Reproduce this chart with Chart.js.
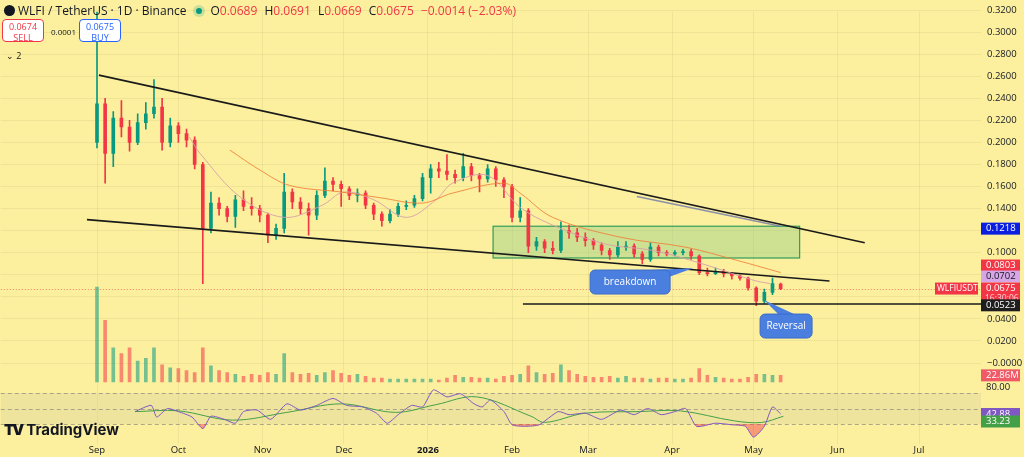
<!DOCTYPE html>
<html>
<head>
<meta charset="utf-8">
<script src="https://cdn.jsdelivr.net/npm/chart.js@4.4.1/dist/chart.umd.min.js"></script>
<style>
  html, body { margin: 0; padding: 0; background: #fcf09f; }
  #wrap { position: relative; width: 1024px; height: 457px; overflow: hidden; font-family: "Open Sans", Roboto, sans-serif; }
  #chart { position: absolute; left: 0; top: 0; }
  .hdr { position: absolute; left: 4px; top: 2px; font-size: 12px; color: #131722; white-space: nowrap; }
  .hdr .dot { display: inline-block; width: 11px; height: 11px; border-radius: 6px; background: #131722; vertical-align: -1px; margin-right: 3px; }
  .hdr .live { display: inline-block; width: 6px; height: 6px; border-radius: 3px; background: #089981; margin: 0 8px 1px 10px; box-shadow: 0 0 0 3px rgba(8,153,129,0.2); }
  .hdr .k { color: #131722; }
  .hdr .v { color: #f23645; margin-right: 4px; }
  .btn { position: absolute; top: 19px; width: 42px; height: 23px; border-radius: 4px; background: #fff; font-size: 9px; text-align: center; line-height: 11px; padding-top: 1px; box-sizing: border-box; }
  .sell { left: 2px; border: 1px solid #f23645; color: #f23645; }
  .buy { left: 79px; border: 1px solid #2962ff; color: #2962ff; }
  .spr { position: absolute; left: 51px; top: 26px; font-size: 8px; color: #131722; }
  .cnt { position: absolute; left: 6px; top: 49px; font-size: 9px; color: #131722; }
  .logo { position: absolute; left: 4px; top: 420px; font-size: 15px; font-weight: 700; color: #131722; font-family: Inter, "Open Sans", sans-serif; }
  .logo b { font-size: 15px; letter-spacing: -2px; margin-right: 4px; }
</style>
</head>
<body>
<div id="wrap">
  <canvas id="chart" width="1024" height="457"></canvas>
  <div class="hdr"><span class="dot"></span>WLFI / TetherUS · 1D · Binance<span class="live"></span><span class="k">O</span><span class="v">0.0689</span> <span class="k">H</span><span class="v">0.0691</span> <span class="k">L</span><span class="v">0.0669</span> <span class="k">C</span><span class="v">0.0675</span> <span class="v">−0.0014 (−2.03%)</span></div>
  <div class="btn sell">0.0674<br>SELL</div>
  <div class="spr">0.0001</div>
  <div class="btn buy">0.0675<br>BUY</div>
  <div class="cnt">⌄ 2</div>
  <div class="logo"><b>TV</b>TradingView</div>
</div>
<script>
// candles every 3 days, day 0 = 1 Sep 2025
const days = [0,3,6,9,12,15,18,21,24,27,30,33,36,39,42,45,48,51,54,57,60,63,66,69,72,75,78,81,84,87,90,93,96,99,102,105,108,111,114,117,120,123,126,129,132,135,138,141,144,147,150,153,156,159,162,165,168,171,174,177,180,183,186,189,192,195,198,201,204,207,210,213,216,219,222,225,228,231,234,237,240,243,246,249,252];
const opens = [0.200,0.235,0.190,0.222,0.214,0.200,0.218,0.226,0.232,0.200,0.215,0.208,0.202,0.180,0.122,0.145,0.140,0.133,0.148,0.142,0.140,0.134,0.116,0.122,0.155,0.146,0.140,0.134,0.152,0.165,0.162,0.158,0.152,0.154,0.143,0.135,0.129,0.135,0.142,0.143,0.149,0.168,0.176,0.174,0.171,0.168,0.178,0.170,0.167,0.176,0.166,0.160,0.132,0.138,0.106,0.110,0.104,0.102,0.120,0.118,0.114,0.111,0.107,0.102,0.098,0.105,0.106,0.099,0.094,0.105,0.100,0.099,0.100,0.101,0.097,0.082,0.081,0.083,0.081,0.079,0.077,0.068,0.056,0.064,0.0715];
const highs = [0.325,0.240,0.228,0.238,0.220,0.226,0.236,0.257,0.240,0.222,0.218,0.212,0.205,0.182,0.155,0.150,0.142,0.152,0.156,0.150,0.143,0.136,0.126,0.172,0.158,0.150,0.145,0.156,0.177,0.168,0.165,0.160,0.158,0.156,0.145,0.137,0.139,0.145,0.147,0.152,0.172,0.180,0.182,0.189,0.175,0.190,0.181,0.172,0.180,0.178,0.168,0.162,0.150,0.140,0.114,0.112,0.110,0.128,0.125,0.122,0.118,0.113,0.109,0.104,0.110,0.110,0.108,0.101,0.109,0.107,0.102,0.102,0.103,0.103,0.098,0.086,0.086,0.085,0.082,0.080,0.078,0.069,0.067,0.077,0.0725];
const lows = [0.195,0.163,0.178,0.205,0.192,0.198,0.212,0.222,0.193,0.196,0.200,0.196,0.176,0.072,0.118,0.134,0.128,0.123,0.138,0.134,0.128,0.109,0.112,0.118,0.140,0.135,0.116,0.130,0.150,0.156,0.142,0.148,0.146,0.140,0.130,0.124,0.127,0.133,0.139,0.141,0.147,0.154,0.168,0.166,0.163,0.165,0.165,0.155,0.164,0.160,0.150,0.128,0.128,0.100,0.102,0.100,0.099,0.100,0.113,0.110,0.106,0.103,0.098,0.094,0.096,0.102,0.096,0.090,0.092,0.097,0.097,0.097,0.098,0.094,0.080,0.079,0.080,0.078,0.076,0.075,0.066,0.052,0.054,0.062,0.0665];
const closes = [0.235,0.190,0.222,0.214,0.200,0.218,0.226,0.232,0.200,0.215,0.208,0.202,0.180,0.122,0.145,0.140,0.133,0.148,0.142,0.140,0.134,0.116,0.122,0.155,0.146,0.140,0.134,0.152,0.165,0.162,0.158,0.152,0.154,0.143,0.135,0.129,0.135,0.142,0.143,0.149,0.168,0.176,0.174,0.171,0.168,0.178,0.170,0.167,0.176,0.166,0.160,0.132,0.138,0.106,0.110,0.104,0.102,0.120,0.118,0.114,0.111,0.107,0.102,0.098,0.105,0.106,0.099,0.094,0.105,0.100,0.099,0.100,0.101,0.097,0.082,0.081,0.083,0.081,0.079,0.077,0.068,0.056,0.064,0.072,0.0675];
// volume, relative to the listing day spike = 100
const volumes = [100,65,36,30,36,22,25,36,18,15,14,12,10,36,17,12,10,8,6,8,7,10,8,30,10,8,9,7,10,12,9,7,8,6,4,4,3,3,3,3,3,3,2,4,7,5,5,4,4,3,6,7,8,17,10,8,9,18,12,8,6,5,5,6,4,6,4,4,3,4,4,3,3,4,14,7,5,4,3,3,5,8,8,7,7];

const slowDays = [49,60,71,90,104,120,131,150,156,168,193,217,236,252];
const slowVals = [0.193,0.175,0.161,0.155,0.150,0.145,0.154,0.163,0.154,0.132,0.114,0.105,0.093,0.082];
const fastDays = [34,38,53,69,83,91,102,114,125,131,144,156,168,187,205,223,242,248];
const fastVals = [0.205,0.190,0.150,0.132,0.143,0.155,0.148,0.132,0.148,0.163,0.170,0.141,0.125,0.108,0.102,0.090,0.075,0.072];

const rsiDays = [14,20,22,26,30,35,39,42,47,51,54,59,64,70,75,81,87,92,98,103,107,111,116,120,124,129,134,139,142,145,150,153,158,163,170,174,180,186,193,198,203,208,213,217,221,228,234,239,242,246,249,252];
const rsiVals = [46,54,39,50,46,39,24,40,36,31,46,48,36,56,48,54,63,54,52,44,31,42,54,52,74,65,69,56,52,61,46,29,27,29,46,42,44,36,48,42,50,42,46,50,27,31,29,27,13,27,52,43];
const rsiMaDays = [14,30,50,70,90,110,125,140,160,165,180,200,215,235,245,253];
const rsiMaVals = [46,47,35,45,56,45,55,65,40,32,44,46,47,34,32,40];

const monthDays = [0,30,61,91,122,153,181,212,242,273,303];
const monthLabels = ["Sep","Oct","Nov","Dec","2026","Feb","Mar","Apr","May","Jun","Jul"];
const priceTicks = [0.02,0.04,0.06,0.08,0.10,0.12,0.14,0.16,0.18,0.20,0.22,0.24,0.26,0.28,0.30,0.32];

// trend lines [day, price]
const upperLine = [[0.7, 0.261], [283, 0.109]];
const lowerLine = [[-3.7, 0.130], [270, 0.0743]];
const innerLine = [[199, 0.151], [252, 0.124]];
const supportLine = [[157, 0.0535], [330, 0.0535]];

const UP = "#089981", DOWN = "#f23645";
const dirColor = (i, a) => closes[i] >= opens[i] ? (a ? "rgba(8,153,129," + a + ")" : UP) : (a ? "rgba(242,54,69," + a + ")" : DOWN);

const pts = (xs, ys) => xs.map((x, i) => ({ x, y: ys[i] }));
const seg = (arr) => arr.map(([x, y]) => ({ x, y }));

const lineDs = (data, color, width, axis) => ({
  type: "line", data, borderColor: color, borderWidth: width, pointRadius: 0,
  yAxisID: axis || "y", tension: 0.35, order: 0
});

const overlay = {
  id: "overlay",
  beforeDatasetsDraw(chart) {
    const { ctx, scales: { x, y, rsi }, chartArea } = chart;
    ctx.save();
    ctx.fillStyle = "rgba(200,190,150,0.25)";
    ctx.fillRect(chartArea.left, rsi.getPixelForValue(70), chartArea.right - chartArea.left, rsi.getPixelForValue(30) - rsi.getPixelForValue(70));
    ctx.strokeStyle = "rgba(120,120,120,0.6)";
    ctx.setLineDash([4, 3]);
    ctx.lineWidth = 1;
    [70, 50, 30].forEach((v) => {
      const py = Math.round(rsi.getPixelForValue(v)) + 0.5;
      ctx.beginPath(); ctx.moveTo(chartArea.left, py); ctx.lineTo(chartArea.right, py); ctx.stroke();
    });
    ctx.strokeStyle = "rgba(242,54,69,0.6)";
    ctx.setLineDash([1, 2]);
    const cp = Math.round(y.getPixelForValue(0.0675)) + 0.5;
    ctx.beginPath(); ctx.moveTo(chartArea.left, cp); ctx.lineTo(chartArea.right, cp); ctx.stroke();
    ctx.setLineDash([]);
    const bx1 = x.getPixelForValue(146), bx2 = x.getPixelForValue(259);
    const by1 = y.getPixelForValue(0.124), by2 = y.getPixelForValue(0.0952);
    ctx.fillStyle = "rgba(150,205,130,0.45)";
    ctx.fillRect(bx1, by1, bx2 - bx1, by2 - by1);
    ctx.strokeStyle = "#2e9d5a";
    ctx.lineWidth = 1.2;
    ctx.strokeRect(bx1, by1, bx2 - bx1, by2 - by1);
    ctx.restore();
  },
  afterDatasetsDraw(chart) {
    const { ctx, scales: { x, y, vol, rsi } } = chart;
    ctx.save();
    const callout = (cd, cp, w, h, tipDay, tipPrice, text, from) => {
      const cx = x.getPixelForValue(cd), cy = y.getPixelForValue(cp);
      const tx = x.getPixelForValue(tipDay), ty = y.getPixelForValue(tipPrice);
      ctx.fillStyle = "#4a7fe0";
      ctx.strokeStyle = "#3c6bc8";
      ctx.beginPath();
      ctx.moveTo(cx + from[0], cy + from[1]);
      ctx.lineTo(tx, ty);
      ctx.lineTo(cx + from[2], cy + from[3]);
      ctx.fill();
      ctx.beginPath();
      ctx.roundRect(cx - w / 2, cy - h / 2, w, h, 5);
      ctx.fill(); ctx.stroke();
      ctx.fillStyle = "#fff";
      ctx.font = "10px 'Open Sans', sans-serif";
      ctx.textAlign = "center"; ctx.textBaseline = "middle";
      ctx.fillText(text, cx, cy);
    };
    callout(196.5, 0.0734, 80, 24, 219.7, 0.086, "breakdown", [20, -12, 36, -4]);
    callout(254, 0.0335, 52, 24, 246, 0.057, "Reversal", [-8, -12, 8, -12]);

    const tag = (py, text, bg, fg) => {
      ctx.fillStyle = bg;
      ctx.fillRect(981, py - 6, 39, 12);
      ctx.fillStyle = fg;
      ctx.font = "9.5px 'Open Sans', sans-serif";
      ctx.textAlign = "left"; ctx.textBaseline = "middle";
      ctx.fillText(text, 986, py);
    };
    tag(y.getPixelForValue(0.1218), "0.1218", "#0b1fe0", "#fff");
    const cpy = y.getPixelForValue(0.0675);
    // stacked like the platform does when tags collide
    tag(cpy - 23, "0.0803", "#f23645", "#fff");
    tag(cpy - 12, "0.0702", "#d7a6e6", "#131722");
    ctx.fillStyle = "#f23645";
    ctx.fillRect(981, cpy - 6, 39, 22);
    ctx.fillRect(935, cpy - 6, 43, 12);
    ctx.fillStyle = "#fff";
    ctx.font = "9.5px 'Open Sans', sans-serif";
    ctx.textAlign = "left"; ctx.textBaseline = "middle";
    ctx.fillText("0.0675", 986, cpy);
    ctx.font = "8.5px 'Open Sans', sans-serif";
    ctx.fillText("WLFIUSDT", 937, cpy);
    ctx.fillStyle = "#ffd0d4";
    ctx.fillText("16:30:06", 985, cpy + 10);
    tag(y.getPixelForValue(0.0523), "0.0523", "#1e1e1e", "#fff");
    tag(vol.getPixelForValue(volumes[volumes.length - 1]), "22.86M", "#f05a66", "#fff");
    ctx.fillStyle = "#131722";
    ctx.fillText("80.00", 986, rsi.getPixelForValue(80) + 2);
    tag(rsi.getPixelForValue(42.88), "42.88", "#7e57c2", "#fff");
    tag(rsi.getPixelForValue(33.23), "33.23", "#43a047", "#fff");
    ctx.restore();
  }
};

const datasets = [
  { type: "bar", data: pts(days, volumes), backgroundColor: days.map((d, i) => dirColor(i, 0.55)), barThickness: 3, grouped: false, yAxisID: "vol", order: 5 },
  { type: "bar", data: days.map((d, i) => ({ x: d, y: [lows[i], highs[i]] })), backgroundColor: days.map((d, i) => dirColor(i)), barThickness: 1, grouped: false, order: 3 },
  { type: "bar", data: days.map((d, i) => ({ x: d, y: [opens[i], closes[i]] })), backgroundColor: days.map((d, i) => dirColor(i)), barThickness: 3, grouped: false, order: 2 },
  lineDs(pts(slowDays, slowVals), "rgba(240,120,50,0.8)", 1),
  lineDs(pts(fastDays, fastVals), "rgba(215,160,170,0.9)", 1),
  Object.assign(lineDs(seg(upperLine), "#1a1a1a", 1.6), { tension: 0 }),
  Object.assign(lineDs(seg(lowerLine), "#1a1a1a", 1.6), { tension: 0 }),
  Object.assign(lineDs(seg(innerLine), "rgba(110,120,170,0.8)", 1.5), { tension: 0 }),
  Object.assign(lineDs(seg(supportLine), "#1a1a1a", 1.6), { tension: 0 }),
  Object.assign(lineDs(pts(rsiDays, rsiVals), "#7e57c2", 1, "rsi"), {
    tension: 0.2, fill: { target: { value: 30 }, above: "transparent", below: "rgba(242,54,69,0.45)" }
  }),
  lineDs(pts(rsiMaDays, rsiMaVals), "#43a047", 1, "rsi")
];

const chart = new Chart(document.getElementById("chart"), {
  data: { datasets },
  options: {
    responsive: false,
    animation: false,
    layout: { padding: 0 },
    plugins: { legend: { display: false }, tooltip: { enabled: false } },
    scales: {
      x: {
        type: "linear", offset: false, min: -35.8, max: 325.8,
        afterFit(s) { s.height = 13; },
        afterBuildTicks(s) { s.ticks = monthDays.map((d) => ({ value: d })); },
        ticks: {
          autoSkip: false, maxRotation: 0, padding: 1,
          font: (c) => ({ size: 9.5, family: "'Open Sans', sans-serif", weight: c.tick && c.tick.value === 122 ? "bold" : "normal" }),
          color: "#131722",
          callback: (val) => monthLabels[monthDays.indexOf(val)]
        },
        grid: { color: "rgba(0,0,0,0.05)", drawTicks: false, offset: false },
        border: { display: false }
      },
      y: {
        position: "right", min: -0.07344, max: 0.3291,
        afterFit(s) { s.width = 43; },
        afterBuildTicks(s) { s.ticks = [{ value: 0 }].concat(priceTicks.map((p) => ({ value: p }))); },
        ticks: {
          padding: 6, color: "#131722", font: { size: 9.5, family: "'Open Sans', sans-serif" },
          callback: (val) => val === 0 ? "−0.0000" : val.toFixed(4)
        },
        grid: { color: "rgba(0,0,0,0.05)", drawTicks: false },
        border: { display: false }
      },
      vol: { axis: "y", type: "linear", display: false, min: -65.3, max: 402.1 },
      rsi: { axis: "y", type: "linear", display: false, min: 4.2, max: 577.1 }
    }
  },
  plugins: [overlay]
});

// pin the scales to the reference pixel grid once the chart area is known
function pinScales() {
  const a = chart.chartArea;
  const s = chart.options.scales;
  const ppd = 822 / 303;
  s.x.min = (a.left - 97) / ppd;
  s.x.max = (a.right - 97) / ppd;
  s.y.max = (363 - a.top) / 1103;
  s.y.min = (363 - a.bottom) / 1103;
  s.vol.max = (382 - a.top) / 0.95;
  s.vol.min = (382 - a.bottom) / 0.95;
  s.rsi.max = 50 + (408.5 - a.top) / 0.775;
  s.rsi.min = 50 + (408.5 - a.bottom) / 0.775;
  chart.update();
}
pinScales();
pinScales();
</script>
</body>
</html>
